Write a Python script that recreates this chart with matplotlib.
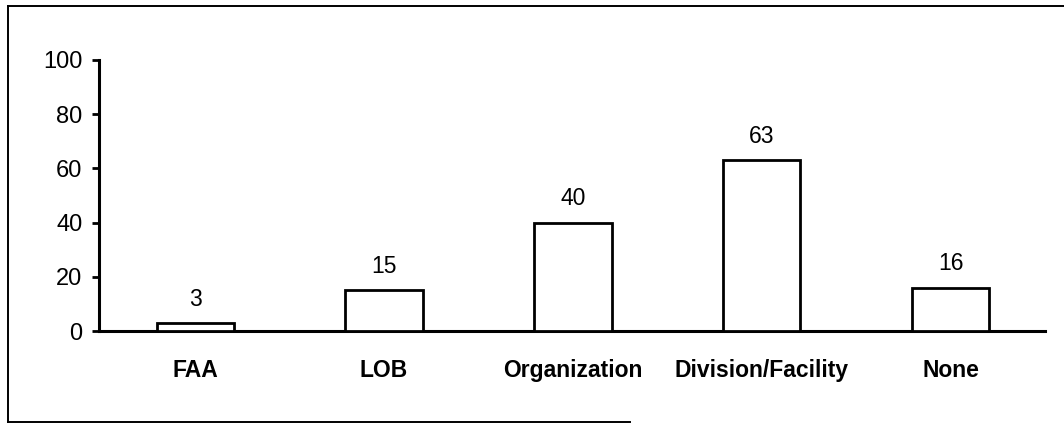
import matplotlib
matplotlib.use("Agg")
import matplotlib.pyplot as plt
from matplotlib.lines import Line2D

categories = ["FAA", "LOB", "Organization", "Division/Facility", "None"]
values = [3, 15, 40, 63, 16]
yticks = [0, 20, 40, 60, 80, 100]

plt.rcParams['font.family'] = ['Liberation Sans', 'DejaVu Sans']

W, H = 1064, 425
fig = plt.figure(figsize=(W / 100, H / 100), dpi=100)
ax = fig.add_axes([99 / W, 94 / H, (1045 - 99) / W, 271 / H])

x = list(range(len(categories)))
ax.bar(x, values, width=0.41, color="white", edgecolor="black", linewidth=2.0, zorder=3)

for xi, v in zip(x, values):
    ax.annotate(str(v), (xi, v), xytext=(0, 12.5), textcoords="offset points",
                ha="center", va="baseline", fontsize=16.5)

ax.set_xlim(-0.51, 4.5)
ax.set_ylim(0, 100)
ax.set_yticks(yticks)
ax.set_xticks(x)
ax.set_xticklabels(categories, fontsize=16.5, fontweight="bold")
ax.tick_params(axis="x", length=0, pad=20)
ax.tick_params(axis="y", length=5, width=2, pad=7, labelsize=17)
for s in ["top", "right"]:
    ax.spines[s].set_visible(False)
for s in ["left", "bottom"]:
    ax.spines[s].set_linewidth(2.2)

# outer frame (cropped on the right side in the reference)
def fx(px):
    return px / W

def fy(py):
    return 1 - py / H

fig.add_artist(Line2D([fx(8), fx(1064)], [fy(6), fy(6)], color="black", lw=1.4))
fig.add_artist(Line2D([fx(8), fx(8)], [fy(6), fy(422)], color="black", lw=1.4))
fig.add_artist(Line2D([fx(8), fx(630)], [fy(422), fy(422)], color="black", lw=1.4))

fig.savefig("out.png", dpi=100)
